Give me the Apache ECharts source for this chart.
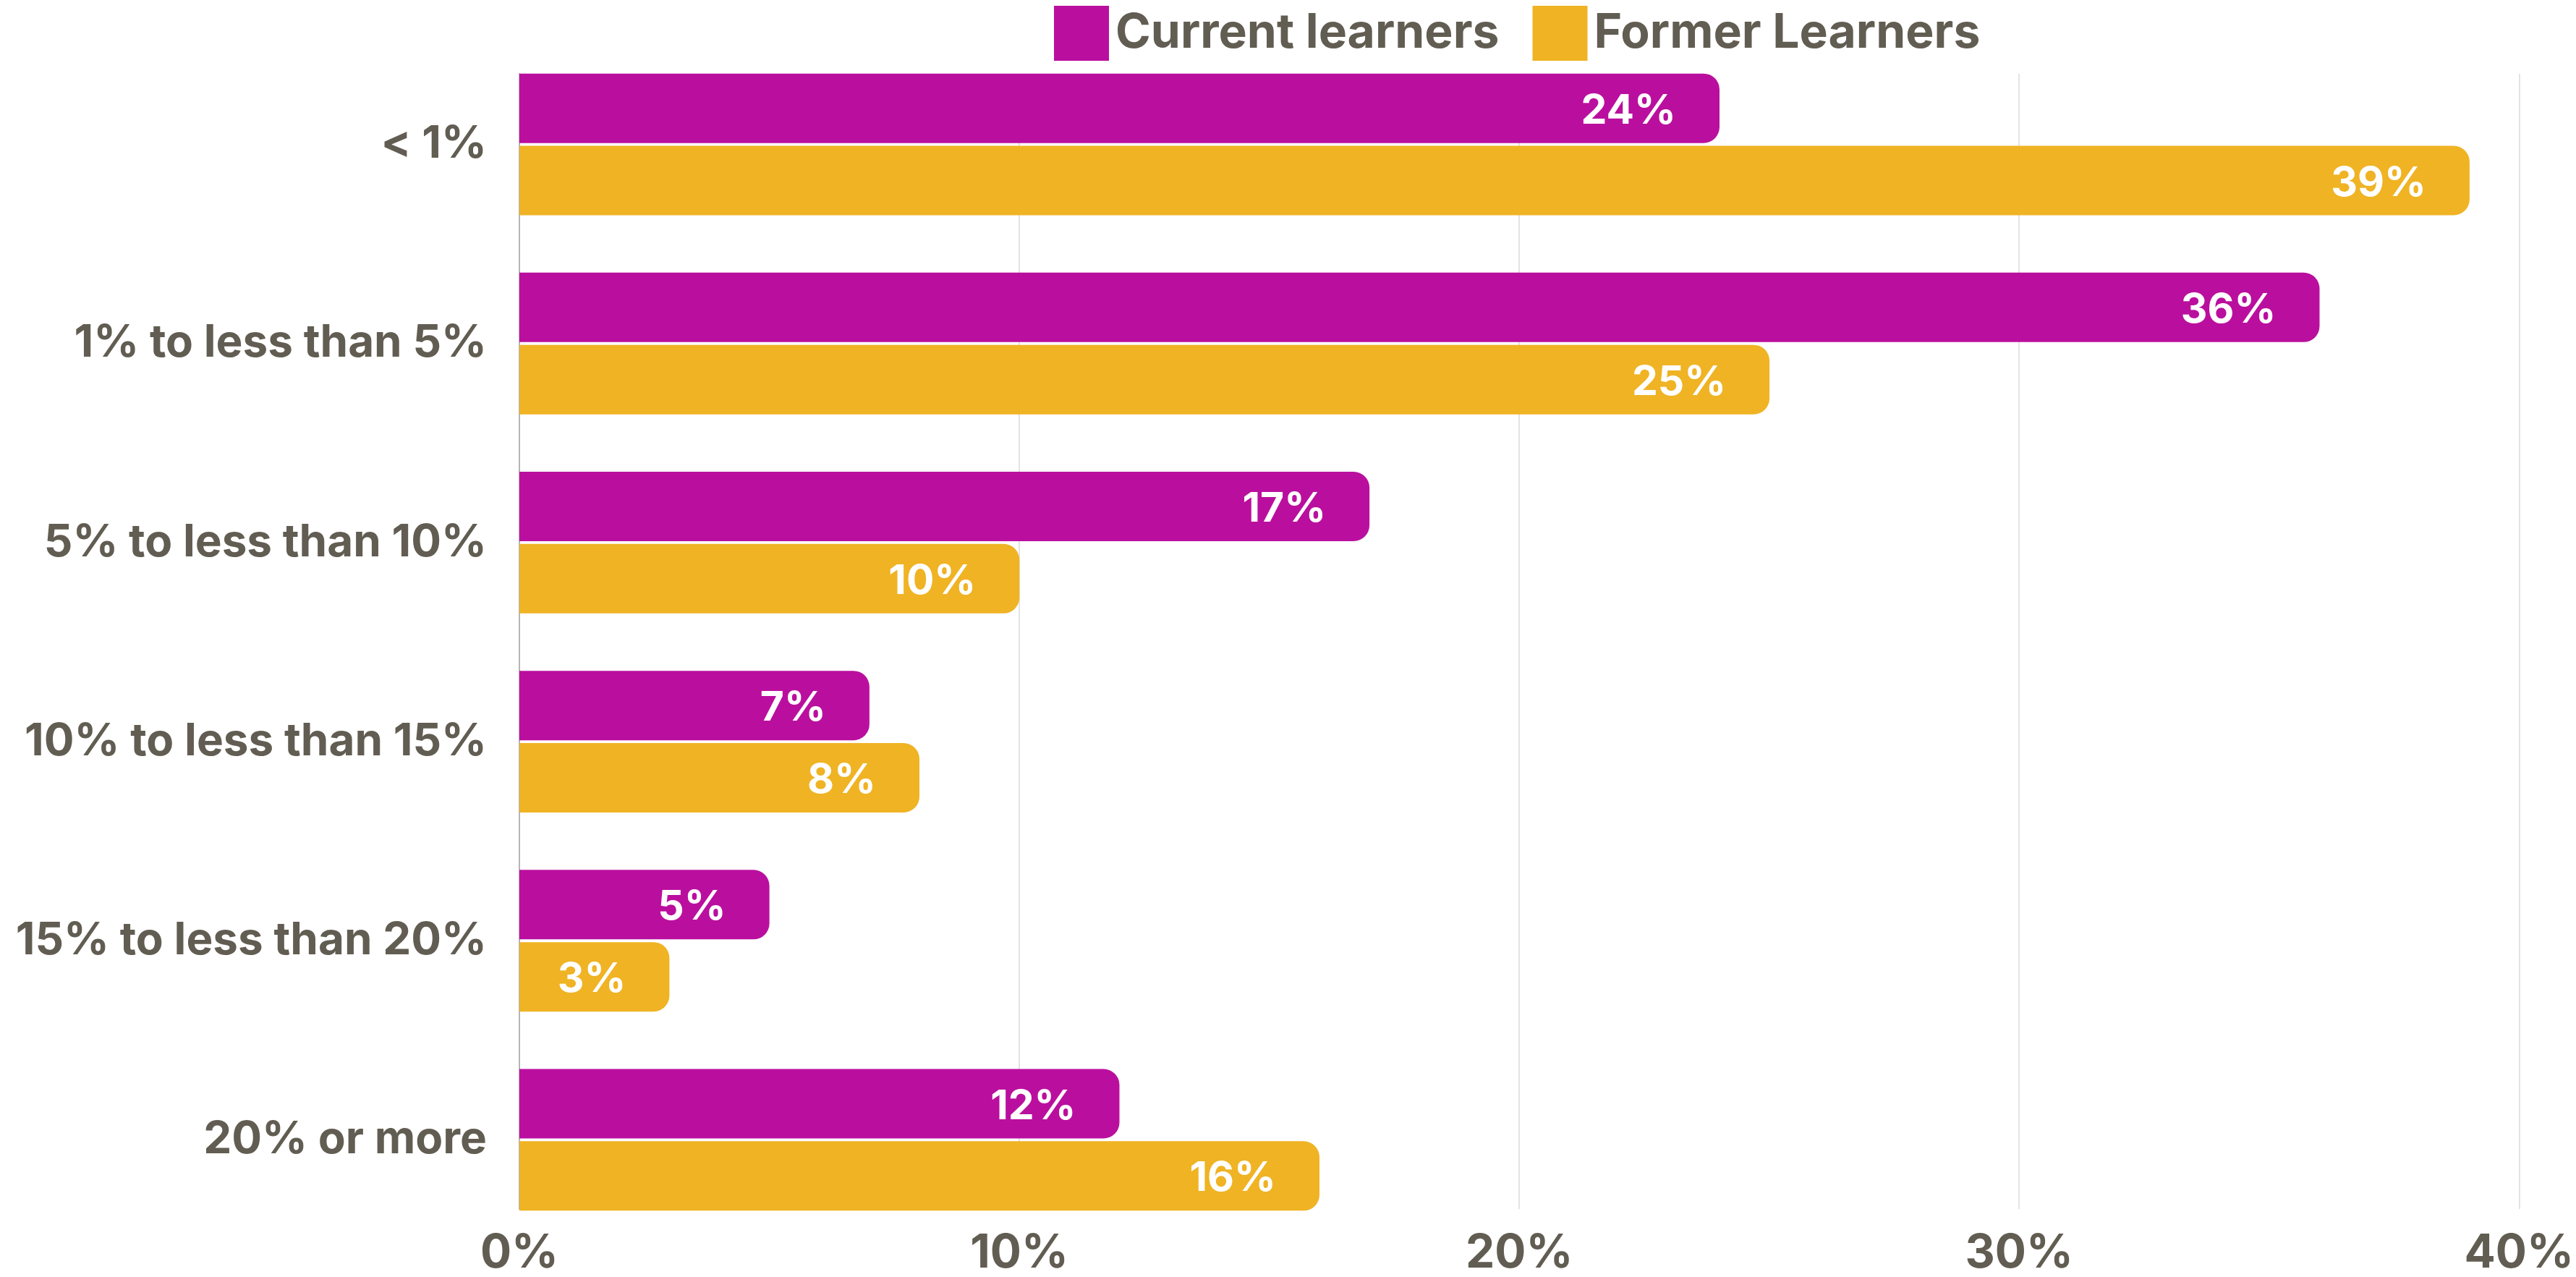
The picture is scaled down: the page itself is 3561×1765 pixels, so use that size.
<!DOCTYPE html>
<html>
<head>
<meta charset="utf-8">
<script src="https://cdn.jsdelivr.net/npm/echarts@6/dist/echarts.min.js"></script>
<style>
    html, body { margin: 0; padding: 0; background: #fff; }
    #chart { width: 3561px; height: 1765px; }
</style>
</head>
<body>
<div id="chart"></div>
<script>
const categories = ['< 1%', '1% to less than 5%', '5% to less than 10%', '10% to less than 15%', '15% to less than 20%', '20% or more'];
const currentLearners = [24, 36, 17, 7, 5, 12];
const formerLearners = [39, 25, 10, 8, 3, 16];
const seriesNames = ['Current learners', 'Former Learners'];
const xTicks = [0, 10, 20, 30, 40];

const TEXT = '#625d52';
const FONT = 'Inter';

const initChart = () => {
    const chart = echarts.init(document.getElementById('chart'));

    const barSeries = (name, data, color) => ({
        name,
        type: 'bar',
        data,
        barWidth: 96,
        barGap: '4%',
        itemStyle: {
            color,
            borderRadius: [0, 22, 22, 0],
        },
        label: {
            show: true,
            position: 'insideRight',
            distance: 60,
            offset: [0, 4],
            formatter: '{c}%',
            color: '#fff',
            fontFamily: FONT,
            fontWeight: 700,
            fontSize: 57,
        },
    });

    const options = {
        animation: false,
        backgroundColor: '#fff',
        legend: {
            left: 1452,
            top: 3,
            itemWidth: 76,
            itemHeight: 76,
            itemGap: 46,
            icon: 'rect',
            textStyle: {
                color: TEXT,
                fontFamily: FONT,
                fontWeight: 700,
                fontSize: 66,
                padding: [0, 0, 0, 4],
            },
            data: seriesNames,
        },
        grid: [
            // bars
            {left: 718, right: 78, top: 62, bottom: 52},
            // gridlines + axis labels, only over the span of the bars
            {left: 718, right: 78, top: 102, bottom: 91},
        ],
        xAxis: [
            {
                gridIndex: 0,
                type: 'value',
                min: 0,
                max: 40,
                interval: 10,
                axisLabel: {show: false},
                axisLine: {show: false},
                axisTick: {show: false},
                splitLine: {show: false},
            },
            {
                gridIndex: 1,
                type: 'value',
                min: 0,
                max: 40,
                interval: 10,
                axisLabel: {
                    color: TEXT,
                    fontFamily: FONT,
                    fontWeight: 700,
                    fontSize: 64,
                    margin: 30,
                    formatter: (v) => xTicks.includes(v) ? v + '%' : '',
                },
                axisLine: {show: false},
                axisTick: {show: false},
                splitLine: {show: true, lineStyle: {color: '#e3e3e3', width: 2}},
            },
        ],
        yAxis: [
            {
                gridIndex: 0,
                type: 'category',
                data: categories,
                inverse: true,
                axisLine: {show: false},
                axisTick: {show: false},
                axisLabel: {
                    color: TEXT,
                    fontFamily: FONT,
                    fontWeight: 700,
                    fontSize: 62,
                    margin: 45,
                },
            },
            {
                gridIndex: 1,
                type: 'value',
                min: 0,
                max: 1,
                axisLabel: {show: false},
                axisTick: {show: false},
                splitLine: {show: false},
                axisLine: {show: true, lineStyle: {color: '#b5b5b5', width: 2}},
            },
        ],
        series: [
            barSeries(seriesNames[0], currentLearners, '#ba0f9e'),
            barSeries(seriesNames[1], formerLearners, '#efb324'),
        ],
    };

    chart.setOption(options);
    return chart;
};

initChart();
</script>
</body>
</html>
